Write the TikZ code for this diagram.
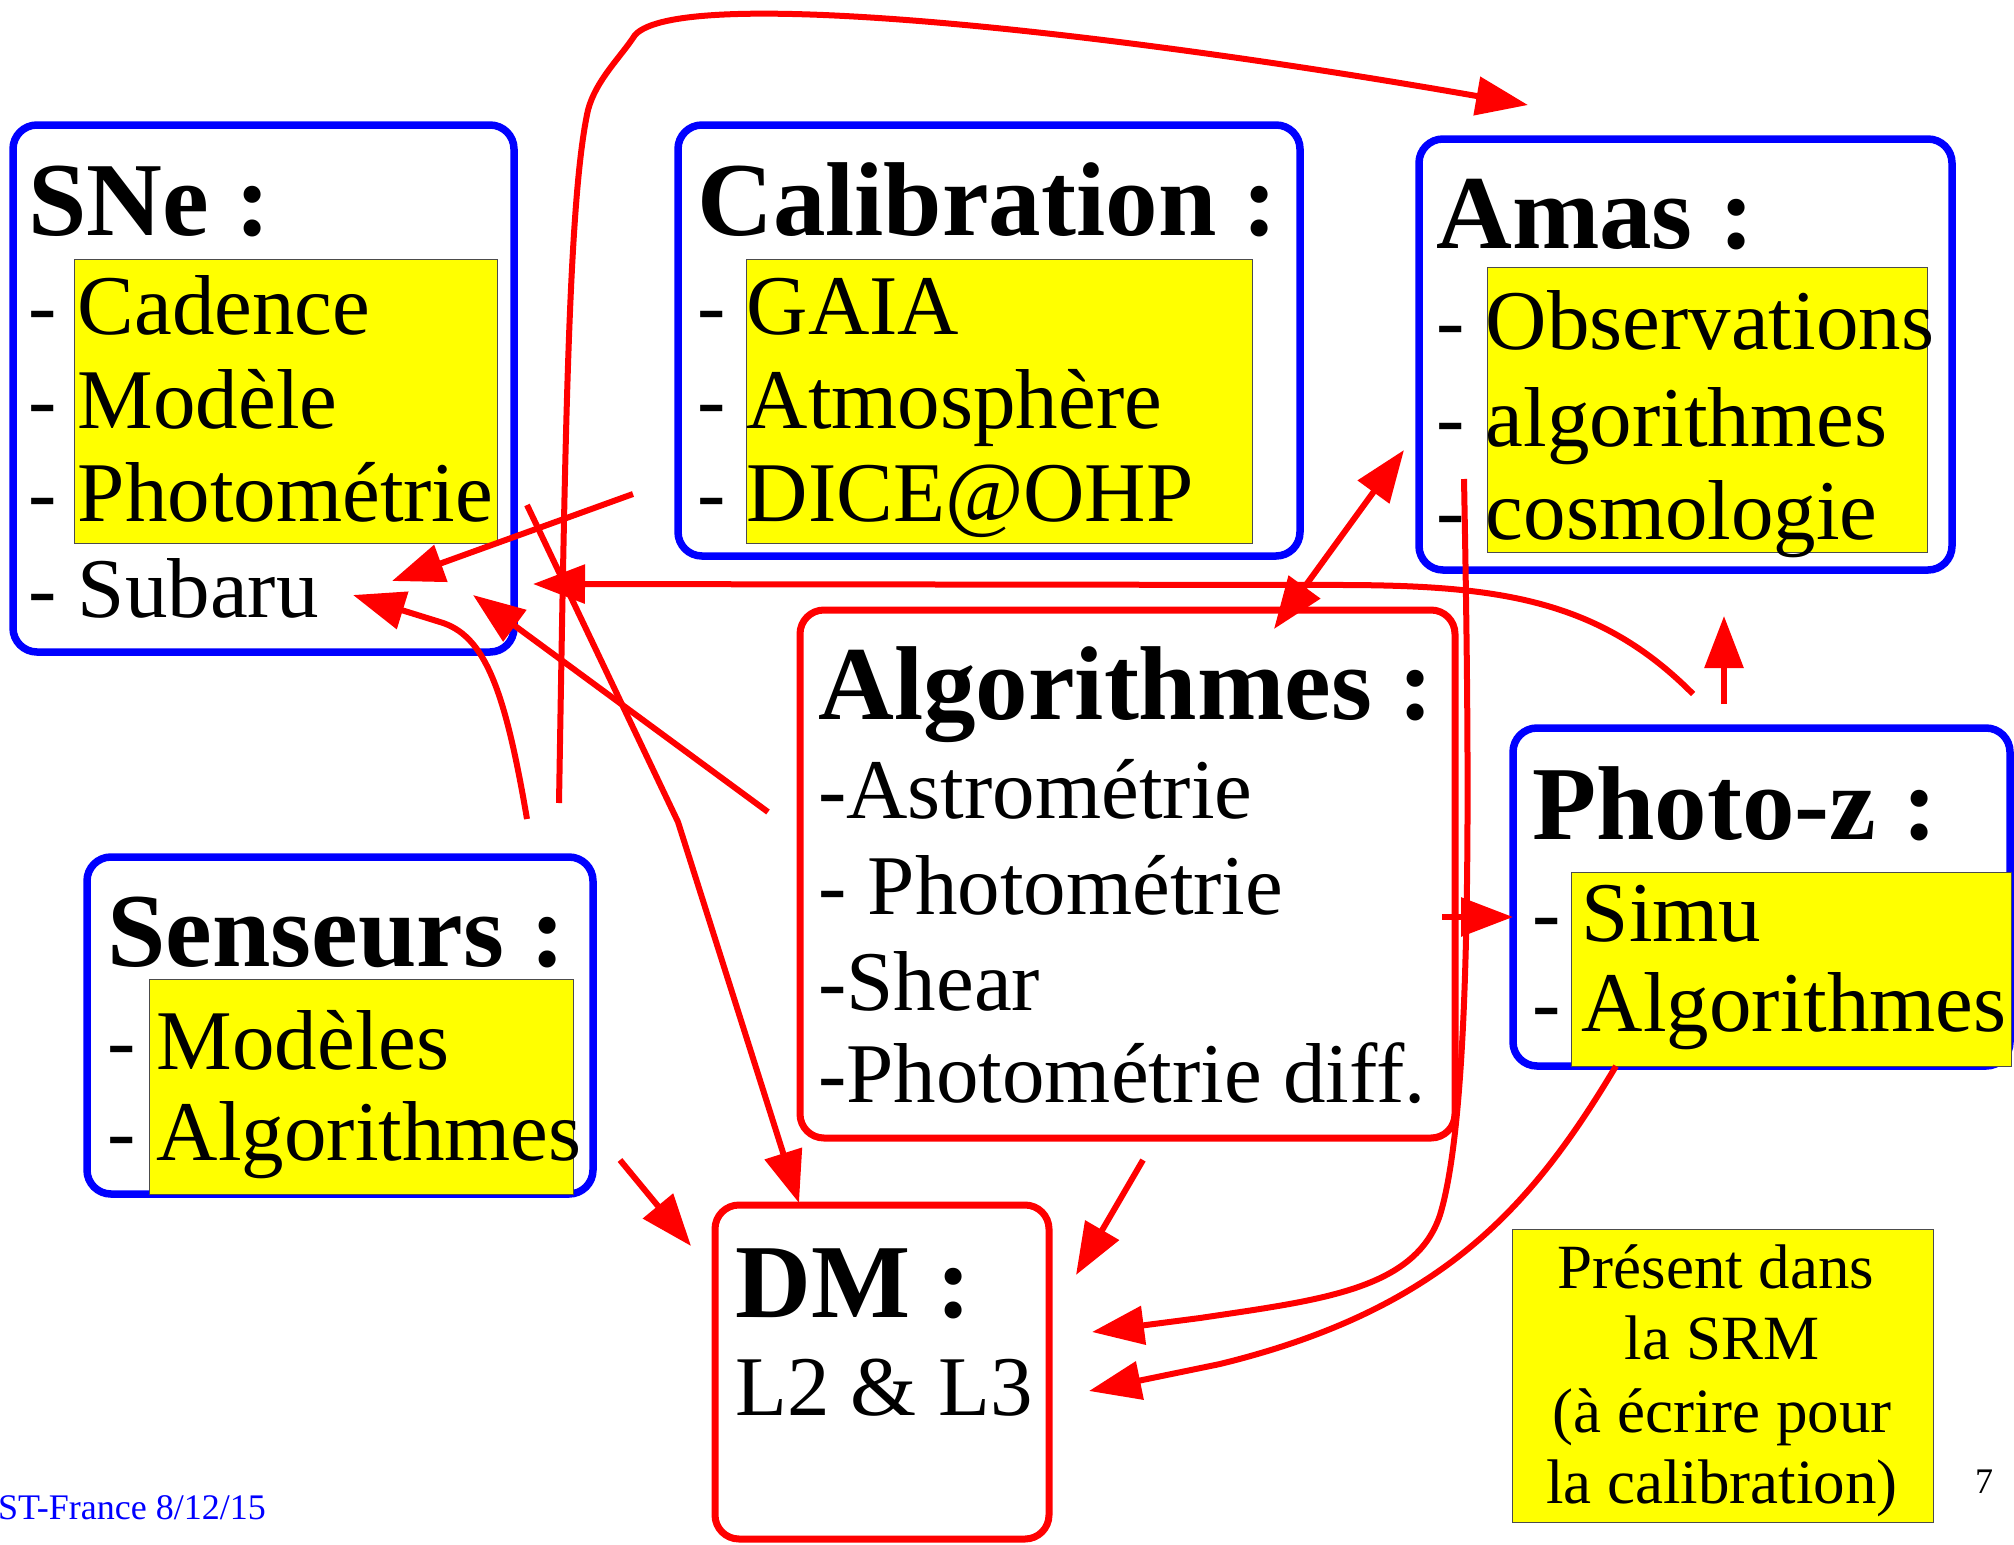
\documentclass[tikz,border=0pt]{standalone}
\usepackage{fontspec}
\setmainfont{Liberation Serif}
\usetikzlibrary{arrows.meta}
\definecolor{hl}{RGB}{255,255,0}
\tikzset{
 bluebox/.style={draw=blue, line width=7.5pt, rounded corners=24pt, inner sep=0pt, outer sep=0pt},
 redbox/.style={draw=red, line width=7pt, rounded corners=24pt, inner sep=0pt, outer sep=0pt},
 ybox/.style={fill=hl, draw=black!70, line width=1pt, inner sep=0pt, outer sep=0pt},
 ttl/.style={anchor=base west, inner sep=0pt, font=\fontsize{105}{110}\selectfont\bfseries},
 itm/.style={anchor=base west, inner sep=0pt, font=\fontsize{85}{94}\selectfont},
 note/.style={anchor=base, inner sep=0pt, font=\fontsize{63}{72}\selectfont},
 small/.style={anchor=base west, inner sep=0pt, font=\fontsize{36}{40}\selectfont},
 arr/.style={draw=red, line width=6pt, -{Triangle[length=52pt,width=38pt]}},
 darr/.style={draw=red, line width=6pt, {Triangle[length=52pt,width=38pt]}-{Triangle[length=52pt,width=38pt]}},
}
\begin{document}
\begin{tikzpicture}[x=1pt,y=-1pt]
\useasboundingbox (0,0) rectangle (2014,1545);
% boxes
\node[bluebox, minimum width=501pt, minimum height=527pt] (sne) at (263.5,388.5) {};
\node[bluebox, minimum width=622pt, minimum height=431pt] (cal) at (989,340.5) {};
\node[bluebox, minimum width=533pt, minimum height=431pt] (amas) at (1685.5,354.5) {};
\node[redbox, minimum width=655pt, minimum height=528pt] (algo) at (1127.5,874) {};
\node[bluebox, minimum width=497pt, minimum height=338pt] (pz) at (1761.5,897) {};
\node[bluebox, minimum width=506pt, minimum height=337pt] (sens) at (340,1025.5) {};
\node[redbox, minimum width=334pt, minimum height=334pt] (dm) at (882,1372) {};
% yellow highlights
\node[ybox, minimum width=423pt, minimum height=284pt] (sneY) at (285.5,401) {};
\node[ybox, minimum width=506pt, minimum height=284pt] (calY) at (999,401) {};
\node[ybox, minimum width=440pt, minimum height=285pt] (amasY) at (1707,409.5) {};
\node[ybox, minimum width=440pt, minimum height=194pt] (pzY) at (1791,969) {};
\node[ybox, minimum width=424pt, minimum height=215pt] (sensY) at (361,1086.5) {};
\node[ybox, minimum width=421pt, minimum height=293pt] (note) at (1722.5,1375.5) {};
% texts
\node[ttl] (sneT) at (28,235) {SNe :};
\node[itm] (sne1) at (28,334) {- Cadence};
\node[itm] (sne2) at (28,428) {- Modèle};
\node[itm] (sne3) at (28,521) {- Photométrie};
\node[itm] (sne4) at (28,617) {- Subaru};
\node[ttl] (calT) at (697,235) {Calibration :};
\node[itm] (cal1) at (697,334) {- GAIA};
\node[itm] (cal2) at (697,428) {- Atmosphère};
\node[itm] (cal3) at (697,521) {- DICE@OHP};
\node[ttl] (amasT) at (1436,248) {Amas :};
\node[itm] (amas1) at (1436,349) {- Observations};
\node[itm] (amas2) at (1436,446) {- algorithmes};
\node[itm] (amas3) at (1436,539) {- cosmologie};
\node[ttl] (algoT) at (818,719) {Algorithmes :};
\node[itm] (algo1) at (818,818) {-Astrométrie};
\node[itm] (algo2) at (818,914) {- Photométrie};
\node[itm] (algo3) at (818,1010) {-Shear};
\node[itm] (algo4) at (818,1102) {-Photométrie diff.};
\node[ttl] (pzT) at (1532,839) {Photo-z :};
\node[itm] (pz1) at (1532,941) {- Simu};
\node[itm] (pz2) at (1532,1031) {- Algorithmes};
\node[ttl] (sensT) at (107,966) {Senseurs :};
\node[itm] (sens1) at (107,1069) {- Modèles};
\node[itm] (sens2) at (107,1160) {- Algorithmes};
\node[ttl] (dmT) at (735,1317) {DM :};
\node[itm] (dm1) at (735,1415) {L2 \& L3};
\node[note] (n1) at (1716,1288) {Présent dans};
\node[note] (n2) at (1722,1359) {la SRM};
\node[note] (n3) at (1722,1432) {(à écrire pour};
\node[note] (n4) at (1722,1503) {la calibration)};
\node[small, text=blue] (foot) at (-2,1519) {ST-France 8/12/15};
\node[small] (pnum) at (1975,1493) {7};
% connector ends
\coordinate (a1s) at (559,803); \coordinate (a1e) at (1528,105);
\coordinate (a2s) at (633,494); \coordinate (a2e) at (392,581);
\coordinate (a3s) at (768,812); \coordinate (a3e) at (473,595);
\coordinate (a4s) at (527,819); \coordinate (a4e) at (353,595);
\coordinate (a5s) at (527,505); \coordinate (a5m) at (678,822); \coordinate (a5e) at (799,1203);
\coordinate (a6s) at (1693,694); \coordinate (a6e) at (533,584);
\coordinate (a7s) at (1724,704); \coordinate (a7e) at (1724,616);
\coordinate (a8s) at (1274,629); \coordinate (a8e) at (1404,450);
\coordinate (a9s) at (1442,917); \coordinate (a9e) at (1513,917);
\coordinate (a10s) at (1464,479); \coordinate (a10e) at (1092,1332);
\coordinate (a11s) at (1616,1066); \coordinate (a11e) at (1089,1391);
\coordinate (a12s) at (1143,1160); \coordinate (a12e) at (1076,1275);
\coordinate (a13s) at (620,1160); \coordinate (a13e) at (691,1246);
% connectors
\draw[arr] (a1s) .. controls (565,450) and (568,200) .. (588,110) .. controls (596,80) and (620,58) .. (635,35) .. controls (680,-15) and (1100,30) .. (a1e);
\draw[arr] (a2s) -- (a2e);
\draw[arr] (a3s) -- (a3e);
\draw[arr] (a4s) .. controls (505,690) and (485,635) .. (440,622) -- (a4e);
\draw[arr] (a5s) -- (a5m) -- (a5e);
\draw[arr] (a6s) .. controls (1600,600) and (1500,586) .. (1350,585) -- (a6e);
\draw[arr] (a7s) -- (a7e);
\draw[darr] (a8s) -- (a8e);
\draw[arr] (a9s) -- (a9e);
\draw[arr] (a10s) .. controls (1470,800) and (1472,1110) .. (1440,1215) .. controls (1415,1290) and (1320,1300) .. (1200,1318) -- (a10e);
\draw[arr] (a11s) .. controls (1530,1210) and (1440,1310) .. (1220,1364) -- (a11e);
\draw[arr] (a12s) -- (a12e);
\draw[arr] (a13s) -- (a13e);
\end{tikzpicture}
\end{document}
